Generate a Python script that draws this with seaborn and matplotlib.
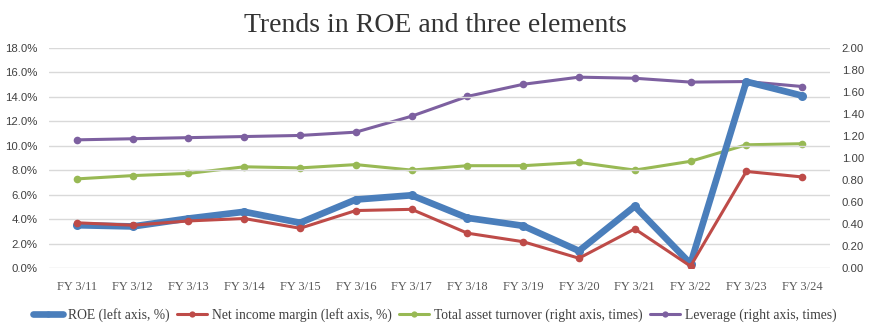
import matplotlib
matplotlib.use("Agg")
import matplotlib.pyplot as plt
import seaborn as sns
import pandas as pd
from matplotlib.lines import Line2D
from matplotlib.ticker import FuncFormatter, MultipleLocator

years = ["FY 3/11", "FY 3/12", "FY 3/13", "FY 3/14", "FY 3/15", "FY 3/16", "FY 3/17",
         "FY 3/18", "FY 3/19", "FY 3/20", "FY 3/21", "FY 3/22", "FY 3/23", "FY 3/24"]
roe = [3.5, 3.4, 4.05, 4.6, 3.7, 5.6, 5.95, 4.1, 3.45, 1.4, 5.05, 0.35, 15.25, 14.1]
net_margin = [3.7, 3.5, 3.85, 4.05, 3.25, 4.7, 4.8, 2.85, 2.15, 0.8, 3.2, 0.15, 7.9, 7.45]
turnover = [0.81, 0.84, 0.86, 0.92, 0.91, 0.94, 0.89, 0.93, 0.93, 0.96, 0.89, 0.97, 1.12, 1.13]
leverage = [1.165, 1.175, 1.185, 1.195, 1.205, 1.235, 1.38, 1.56, 1.67, 1.735, 1.725, 1.69, 1.695, 1.65]

labels = ["ROE (left axis, %)", "Net income margin (left axis, %)",
          "Total asset turnover (right axis, times)", "Leverage (right axis, times)"]
colors = ["#4A7EBB", "#BE4B48", "#98B954", "#7D60A0"]

df = pd.DataFrame({"x": list(range(len(years))), "roe": roe, "nim": net_margin,
                   "tat": turnover, "lev": leverage})

sns.set_theme(style="white")
plt.rcParams["font.family"] = ["Liberation Serif", "DejaVu Serif"]

fig = plt.figure(figsize=(8.7, 3.29), dpi=100)
ax = fig.add_axes([49/870, 1-268/329, (830-49)/870, 220/329])
ax2 = ax.twinx()

sns.lineplot(data=df, x="x", y="tat", ax=ax2, color=colors[2], lw=2.2, marker="o",
             markersize=5.5, markeredgewidth=0)
sns.lineplot(data=df, x="x", y="lev", ax=ax2, color=colors[3], lw=2.2, marker="o",
             markersize=5.5, markeredgewidth=0)
sns.lineplot(data=df, x="x", y="roe", ax=ax, color=colors[0], lw=4.8, marker="o",
             markersize=6.5, markeredgewidth=0, zorder=4)
sns.lineplot(data=df, x="x", y="nim", ax=ax, color=colors[1], lw=2.2, marker="o",
             markersize=5.5, markeredgewidth=0, zorder=5)

ax.set_zorder(ax2.get_zorder() + 1)
ax.patch.set_visible(False)

ax.set_xlim(-0.5, len(years) - 0.5)
ax.set_ylim(0, 18)
ax2.set_ylim(0, 2.0)
ax.yaxis.set_major_locator(MultipleLocator(2))
ax2.yaxis.set_major_locator(MultipleLocator(0.2))
ax.yaxis.set_major_formatter(FuncFormatter(lambda v, p: f"{v:.1f}%"))
ax2.yaxis.set_major_formatter(FuncFormatter(lambda v, p: f"{v:.2f}"))
ax.set_xticks(range(len(years)))
ax.set_xticklabels(years)

ax.grid(axis="y", color="#D9D9D9", lw=1.0)
ax.set_axisbelow(True)
for a in (ax, ax2):
    for s in a.spines.values():
        s.set_visible(False)
    a.set_xlabel("")
    a.set_ylabel("")
    a.tick_params(length=0)

for t in ax.get_xticklabels():
    t.set_fontfamily(["Liberation Serif"])
    t.set_fontsize(9)
    t.set_color("#595959")
ax.tick_params(axis="x", pad=9)
for a in (ax, ax2):
    for t in a.get_yticklabels():
        t.set_fontfamily(["Liberation Sans", "DejaVu Sans"])
        t.set_fontsize(8.2)
        t.set_color("#404040")
ax.tick_params(axis="y", pad=8.5)
ax2.tick_params(axis="y", pad=8.5)

fig.text(0.5, 1 - 25/329, "Trends in ROE and three elements", ha="center", va="center",
         fontsize=20, color="#333333", family=["Liberation Serif"])

handles = [Line2D([0], [0], color=colors[0], lw=4.8, marker="o", markersize=4.5, markeredgewidth=0),
           Line2D([0], [0], color=colors[1], lw=2.2, marker="o", markersize=4.5, markeredgewidth=0),
           Line2D([0], [0], color=colors[2], lw=2.2, marker="o", markersize=4.5, markeredgewidth=0),
           Line2D([0], [0], color=colors[3], lw=2.2, marker="o", markersize=4.5, markeredgewidth=0)]
fig.legend(handles, labels, loc="center", bbox_to_anchor=(0.5, 1 - 315/329), ncol=4,
           frameon=False, handlelength=2.2, handletextpad=0.35, columnspacing=0.55,
           prop={"family": "Liberation Serif", "size": 9.8}, labelcolor="#404040")

fig.savefig("out.png", dpi=100)
